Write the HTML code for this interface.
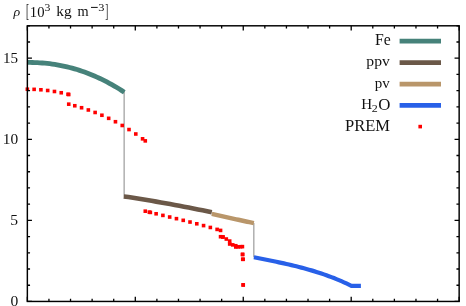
<!DOCTYPE html>
<html><head><meta charset="utf-8"><style>
html,body{margin:0;padding:0;background:#fff;}
svg{display:block}
text{font-family:"Liberation Serif",serif;fill:#111;}
</style></head><body>
<svg width="466" height="306" viewBox="0 0 466 306">
<rect width="466" height="306" fill="#fff"/>
<g fill="none" stroke-linejoin="round">
<path d="M124.15,91V196.4M253.8,223.1V257.3" stroke="#aaaaaa" stroke-width="1.4"/>
<polyline points="27.35,62.46 29.84,62.47 32.32,62.51 34.81,62.58 37.29,62.69 39.78,62.82 42.27,63.00 44.75,63.21 47.24,63.46 49.72,63.74 52.21,64.07 54.69,64.44 57.18,64.84 59.67,65.29 62.15,65.77 64.64,66.30 67.12,66.87 69.61,67.48 72.10,68.14 74.58,68.83 77.07,69.57 79.55,70.36 82.04,71.18 84.53,72.06 87.01,72.97 89.50,73.93 91.98,74.94 94.47,75.99 96.96,77.09 99.44,78.23 101.93,79.42 104.41,80.65 106.90,81.94 109.38,83.26 111.87,84.64 114.36,86.06 116.84,87.53 119.33,89.04 121.81,90.61 124.30,92.22" stroke="#46827a" stroke-width="4.8"/>
<polyline points="123.80,196.40 128.43,197.10 133.06,197.81 137.69,198.54 142.33,199.28 146.96,200.04 151.59,200.82 156.22,201.61 160.85,202.41 165.48,203.23 170.12,204.07 174.75,204.92 179.38,205.79 184.01,206.67 188.64,207.57 193.27,208.49 197.91,209.42 202.54,210.36 207.17,211.32 211.80,212.30" stroke="#6b5848" stroke-width="4.6"/>
<polyline points="211.80,213.90 214.01,214.39 216.23,214.88 218.44,215.37 220.65,215.86 222.87,216.35 225.08,216.84 227.29,217.33 229.51,217.82 231.72,218.31 233.93,218.79 236.14,219.28 238.36,219.77 240.57,220.26 242.78,220.75 245.00,221.24 247.21,221.73 249.42,222.22 251.64,222.71 253.85,223.20" stroke="#b9966a" stroke-width="4.4"/>
<polyline points="253.90,257.26 256.40,257.76 258.90,258.25 261.40,258.75 263.90,259.25 266.40,259.75 268.90,260.26 271.40,260.76 273.90,261.28 276.40,261.80 278.90,262.33 281.40,262.86 283.90,263.41 286.40,263.97 288.90,264.54 291.40,265.12 293.90,265.72 296.40,266.33 298.90,266.96 301.40,267.60 303.90,268.27 306.40,268.95 308.90,269.65 311.40,270.38 313.90,271.13 316.40,271.90 318.90,272.70 321.40,273.53 323.90,274.38 326.40,275.26 328.90,276.17 331.40,277.11 333.90,278.08 336.40,279.08 338.90,280.12 341.40,281.19 343.90,282.30 346.40,283.45 348.90,284.63 351.40,285.86 360.9,285.86" stroke="#2860e8" stroke-width="4.2"/>
</g>
<g fill="#ff0000"><rect x="25.55" y="87.42" width="3.60" height="3.60"/><rect x="32.33" y="87.56" width="3.60" height="3.60"/><rect x="39.11" y="87.98" width="3.60" height="3.60"/><rect x="45.88" y="88.69" width="3.60" height="3.60"/><rect x="52.66" y="89.68" width="3.60" height="3.60"/><rect x="59.44" y="90.95" width="3.60" height="3.60"/><rect x="66.22" y="92.50" width="3.60" height="3.60"/><rect x="66.94" y="92.69" width="3.60" height="3.60"/><rect x="66.94" y="102.37" width="3.60" height="3.60"/><rect x="72.99" y="103.95" width="3.60" height="3.60"/><rect x="79.77" y="105.93" width="3.60" height="3.60"/><rect x="86.55" y="108.17" width="3.60" height="3.60"/><rect x="93.33" y="110.67" width="3.60" height="3.60"/><rect x="100.10" y="113.45" width="3.60" height="3.60"/><rect x="106.88" y="116.53" width="3.60" height="3.60"/><rect x="113.66" y="119.93" width="3.60" height="3.60"/><rect x="120.44" y="123.67" width="3.60" height="3.60"/><rect x="127.21" y="127.75" width="3.60" height="3.60"/><rect x="133.99" y="132.19" width="3.60" height="3.60"/><rect x="140.77" y="137.02" width="3.60" height="3.60"/><rect x="143.48" y="139.07" width="3.60" height="3.60"/><rect x="143.48" y="209.39" width="3.60" height="3.60"/><rect x="147.55" y="210.36" width="3.60" height="3.60"/><rect x="148.56" y="210.61" width="3.60" height="3.60"/><rect x="154.32" y="211.98" width="3.60" height="3.60"/><rect x="161.10" y="213.59" width="3.60" height="3.60"/><rect x="167.88" y="215.22" width="3.60" height="3.60"/><rect x="174.66" y="216.86" width="3.60" height="3.60"/><rect x="181.43" y="218.53" width="3.60" height="3.60"/><rect x="188.21" y="220.23" width="3.60" height="3.60"/><rect x="194.99" y="221.98" width="3.60" height="3.60"/><rect x="201.77" y="223.79" width="3.60" height="3.60"/><rect x="208.54" y="225.66" width="3.60" height="3.60"/><rect x="215.32" y="227.60" width="3.60" height="3.60"/><rect x="218.75" y="228.62" width="3.60" height="3.60"/><rect x="218.75" y="234.92" width="3.60" height="3.60"/><rect x="221.12" y="235.18" width="3.60" height="3.60"/><rect x="221.12" y="235.18" width="3.60" height="3.60"/><rect x="224.51" y="237.23" width="3.60" height="3.60"/><rect x="227.89" y="239.27" width="3.60" height="3.60"/><rect x="227.89" y="242.20" width="3.60" height="3.60"/><rect x="230.94" y="243.07" width="3.60" height="3.60"/><rect x="233.99" y="243.94" width="3.60" height="3.60"/><rect x="233.99" y="245.18" width="3.60" height="3.60"/><rect x="236.37" y="245.05" width="3.60" height="3.60"/><rect x="238.74" y="244.93" width="3.60" height="3.60"/><rect x="240.62" y="244.83" width="3.60" height="3.60"/><rect x="240.62" y="252.63" width="3.60" height="3.60"/><rect x="240.94" y="252.63" width="3.60" height="3.60"/><rect x="240.94" y="257.49" width="3.60" height="3.60"/><rect x="241.35" y="257.49" width="3.60" height="3.60"/><rect x="241.35" y="283.11" width="3.60" height="3.60"/><rect x="241.45" y="283.11" width="3.60" height="3.60"/></g>
<g fill="none" stroke="#000">
<path d="M27.35,301.45v-4.60M27.35,25.80v4.60M48.94,301.45v-2.70M48.94,25.80v2.70M70.53,301.45v-2.70M70.53,25.80v2.70M92.12,301.45v-2.70M92.12,25.80v2.70M113.71,301.45v-2.70M113.71,25.80v2.70M135.30,301.45v-4.60M135.30,25.80v4.60M156.89,301.45v-2.70M156.89,25.80v2.70M178.48,301.45v-2.70M178.48,25.80v2.70M200.07,301.45v-2.70M200.07,25.80v2.70M221.66,301.45v-2.70M221.66,25.80v2.70M243.25,301.45v-4.60M243.25,25.80v4.60M264.84,301.45v-2.70M264.84,25.80v2.70M286.43,301.45v-2.70M286.43,25.80v2.70M308.02,301.45v-2.70M308.02,25.80v2.70M329.61,301.45v-2.70M329.61,25.80v2.70M351.20,301.45v-4.60M351.20,25.80v4.60M372.79,301.45v-2.70M372.79,25.80v2.70M394.38,301.45v-2.70M394.38,25.80v2.70M415.97,301.45v-2.70M415.97,25.80v2.70M437.56,301.45v-2.70M437.56,25.80v2.70M459.15,301.45v-4.60M459.15,25.80v4.60M27.35,301.45h4.60M459.15,301.45h-4.60M27.35,285.24h2.70M459.15,285.24h-2.70M27.35,269.02h2.70M459.15,269.02h-2.70M27.35,252.81h2.70M459.15,252.81h-2.70M27.35,236.59h2.70M459.15,236.59h-2.70M27.35,220.38h4.60M459.15,220.38h-4.60M27.35,204.16h2.70M459.15,204.16h-2.70M27.35,187.94h2.70M459.15,187.94h-2.70M27.35,171.73h2.70M459.15,171.73h-2.70M27.35,155.51h2.70M459.15,155.51h-2.70M27.35,139.30h4.60M459.15,139.30h-4.60M27.35,123.08h2.70M459.15,123.08h-2.70M27.35,106.87h2.70M459.15,106.87h-2.70M27.35,90.66h2.70M459.15,90.66h-2.70M27.35,74.44h2.70M459.15,74.44h-2.70M27.35,58.22h4.60M459.15,58.22h-4.60M27.35,42.01h2.70M459.15,42.01h-2.70M27.35,25.80h2.70M459.15,25.80h-2.70" stroke-width="1.3"/>
<rect x="27.35" y="25.8" width="431.80" height="275.65" stroke-width="1.45"/>
</g>
<g stroke-width="4.75" fill="none">
<path d="M399.6,41.15H441" stroke="#46827a"/>
<path d="M399.6,62.6H441" stroke="#6b5848"/>
<path d="M399.6,84.1H441" stroke="#b9966a"/>
<path d="M399.6,105.3H441" stroke="#2860e8"/>
</g>
<rect x="418.4" y="124.8" width="3.6" height="3.6" fill="#ff0000"/>
<g style="opacity:0.999"><text transform="matrix(0.9032 0 0 0.8552 -31.66 -34.97)" x="50" y="60" font-size="15.4px" font-style="italic">ρ</text>
<text transform="matrix(0.5985 0 0 1.1984 -4.01 -54.52)" x="50" y="60" font-size="15.4px">[</text>
<text transform="matrix(0.9506 0 0 0.9995 -17.70 -43.43)" x="50" y="60" font-size="15.4px">10</text>
<text transform="matrix(1.0703 0 0 1.0219 -9.04 -50.41)" x="50" y="60" font-size="11px">3</text>
<text transform="matrix(0.9971 0 0 0.9536 6.40 -41.46)" x="50" y="60" font-size="15.4px">kg</text>
<text transform="matrix(0.9291 0 0 0.9786 31.14 -42.40)" x="50" y="60" font-size="15.4px">m</text>
<text transform="matrix(1.1255 0 0 0.9806 42.02 -48.07)" x="50" y="60" font-size="11px">3</text>
<text transform="matrix(0.5841 0 0 1.1984 75.97 -54.52)" x="50" y="60" font-size="15.4px">]</text>
<text transform="matrix(0.9779 0 0 1.0038 -46.00 2.35)" x="50" y="60" font-size="15.4px">15</text>
<text transform="matrix(1.0004 0 0 0.9976 -47.16 83.72)" x="50" y="60" font-size="15.4px">10</text>
<text transform="matrix(1.0131 0 0 1.0098 -40.49 163.99)" x="50" y="60" font-size="15.4px">5</text>
<text transform="matrix(1.0109 0 0 1.0043 -40.06 245.35)" x="50" y="60" font-size="15.4px">0</text>
<text transform="matrix(1.0231 0 0 1.0291 323.84 -16.72)" x="50" y="60" font-size="15.4px">Fe</text>
<text transform="matrix(1.0174 0 0 0.9307 315.48 10.08)" x="50" y="60" font-size="15.4px">ppv</text>
<text transform="matrix(0.9744 0 0 0.9546 326.13 30.37)" x="50" y="60" font-size="15.4px">pv</text>
<text transform="matrix(0.9779 0 0 0.9837 312.27 50.03)" x="50" y="60" font-size="15.4px">H</text>
<text transform="matrix(1.0888 0 0 0.9756 317.43 53.04)" x="50" y="60" font-size="11px">2</text>
<text transform="matrix(1.0956 0 0 1.0891 323.43 44.22)" x="50" y="60" font-size="15.4px">O</text>
<text transform="matrix(1.0732 0 0 1.0161 291.30 69.67)" x="50" y="60" font-size="15.4px">PREM</text>
<rect x="91.0" y="6.9" width="6.7" height="0.95" fill="#000"/></g>
</svg>
</body></html>
